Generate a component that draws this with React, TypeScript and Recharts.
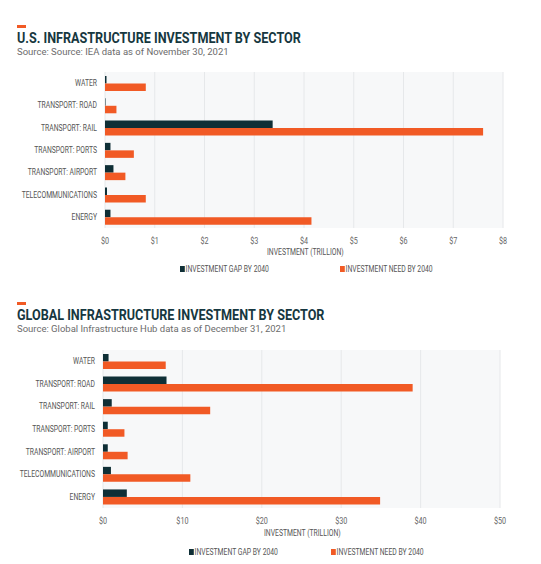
import React from 'react';
import { BarChart, Bar, XAxis, YAxis, CartesianGrid } from 'recharts';

const categories = ['WATER', 'TRANSPORT: ROAD', 'TRANSPORT: RAIL', 'TRANSPORT: PORTS', 'TRANSPORT: AIRPORT', 'TELECOMMUNICATIONS', 'ENERGY'];
const usGap = [0.03, 0.01, 3.37, 0.11, 0.17, 0.04, 0.11];
const usNeed = [0.82, 0.23, 7.6, 0.58, 0.41, 0.82, 4.15];
const usTicks = [0, 1, 2, 3, 4, 5, 6, 7, 8];
const globalGap = [0.7, 8.0, 1.1, 0.6, 0.6, 1.0, 3.0];
const globalNeed = [7.9, 39.0, 13.5, 2.7, 3.1, 11.0, 34.9];
const globalTicks = [0, 10, 20, 30, 40, 50];

const GAP = '#0f2f36';
const NEED = '#f15a25';
const FONT = '"Roboto", sans-serif';
const SQUEEZE = 0.8;

const usData = categories.map((name, i) => ({ name, gap: usGap[i], need: usNeed[i] }));
const globalData = categories.map((name, i) => ({ name, gap: globalGap[i], need: globalNeed[i] }));

function Header({ top, title, source }: { top: number; title: string; source: string }) {
  return (
    <>
      <div style={{ position: 'absolute', left: 17, top: top, width: 9, height: 3, background: NEED }} />
      <div style={{ position: 'absolute', left: 17, top: top + 6, fontFamily: FONT, fontWeight: 700, fontSize: 14, color: '#163740', whiteSpace: 'nowrap', lineHeight: '14px', transform: 'scaleX(0.9)', transformOrigin: 'left center' }}>{title}</div>
      <div style={{ position: 'absolute', left: 17, top: top + 21, fontFamily: FONT, fontSize: 9.5, color: '#6b6b6b', whiteSpace: 'nowrap', lineHeight: '12px' }}>{source}</div>
    </>
  );
}

function SmallText({ left, top, children, origin = 'left center' }: any) {
  return (
    <div style={{ position: 'absolute', left, top, fontFamily: FONT, fontSize: 8.5, color: '#555', whiteSpace: 'nowrap', lineHeight: '10px', transform: `scaleX(${SQUEEZE})`, transformOrigin: origin, display: 'flex', alignItems: 'center' }}>
      {children}
    </div>
  );
}

function Legend({ top, x1, x2 }: { top: number; x1: number; x2: number }) {
  const item = (x: number, color: string, label: string) => (
    <SmallText left={x} top={top}>
      <span style={{ display: 'inline-block', width: 6, height: 6, background: color, marginRight: 1 }} />
      {label}
    </SmallText>
  );
  return (
    <>
      {item(x1, GAP, 'INVESTMENT GAP BY 2040')}
      {item(x2, NEED, 'INVESTMENT NEED BY 2040')}
    </>
  );
}

function CatTick(props: any) {
  const { x, y, payload } = props;
  return (
    <g transform={`translate(${x},${y}) scale(${SQUEEZE},1)`}>
      <text x={0} y={0} dy={3} textAnchor="end" fontSize={8.5} fill="#555" fontFamily={FONT}>
        {payload.value}
      </text>
    </g>
  );
}

function NumTick(props: any) {
  const { x, y, payload } = props;
  return (
    <g transform={`translate(${x},${y}) scale(${SQUEEZE},1)`}>
      <text x={0} y={0} dy={8} textAnchor="middle" fontSize={9} fill="#666" fontFamily={FONT}>
        {`$${payload.value}`}
      </text>
    </g>
  );
}

function Chart({ data, ticks, max, top, plotLeft, plotRight, plotTop, plotHeight }: any) {
  const height = plotTop + plotHeight + 22;
  return (
    <div style={{ position: 'absolute', left: 0, top: top }}>
      <BarChart
        width={541}
        height={height}
        data={data}
        layout="vertical"
        margin={{ top: plotTop, right: 541 - plotRight, bottom: 0, left: 0 }}
        barSize={7.5}
        barGap={0}
      >
        <CartesianGrid horizontal={false} vertical={true} fill="#f7f8f9" stroke="#e6e8ea" strokeWidth={1} />
        <XAxis
          type="number"
          domain={[0, max]}
          ticks={ticks}
          axisLine={false}
          tickLine={false}
          height={22}
          tick={<NumTick />}
          interval={0}
        />
        <YAxis
          type="category"
          dataKey="name"
          width={plotLeft}
          axisLine={false}
          tickLine={false}
          tick={<CatTick />}
          interval={0}
        />
        <Bar dataKey="gap" fill={GAP} isAnimationActive={false} />
        <Bar dataKey="need" fill={NEED} isAnimationActive={false} />
      </BarChart>
    </div>
  );
}

export default function App() {
  return (
    <div style={{ position: 'absolute', left: 0, top: 0, width: 541, height: 564, background: '#fff', overflow: 'hidden' }}>
      <Header top={25} title="U.S. INFRASTRUCTURE INVESTMENT BY SECTOR" source="Source: Source: IEA data as of November 30, 2021" />
      <Chart data={usData} ticks={usTicks} max={8} top={60} plotLeft={105} plotRight={503} plotTop={12} plotHeight={156} />
      <SmallText left={267} top={247}>INVESTMENT (TRILLION)</SmallText>
      <Legend top={264} x1={180} x2={340} />

      <Header top={302} title="GLOBAL INFRASTRUCTURE INVESTMENT BY SECTOR" source="Source: Global Infrastructure Hub data as of December 31, 2021" />
      <Chart data={globalData} ticks={globalTicks} max={50} top={340} plotLeft={103} plotRight={500} plotTop={10} plotHeight={158} />
      <SmallText left={264} top={528}>INVESTMENT (TRILLION)</SmallText>
      <Legend top={547} x1={189} x2={331} />
    </div>
  );
}
